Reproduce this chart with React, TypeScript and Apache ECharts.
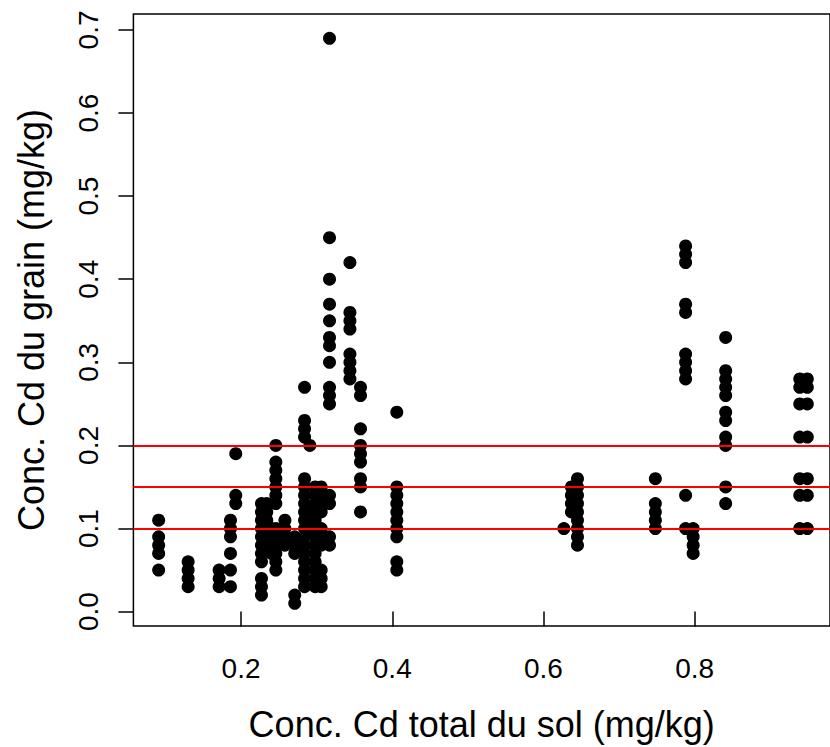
import React, { useEffect, useRef } from "react";
import * as echarts from "echarts";

// Soil total Cd (x) for each column of points, and the grain Cd values (y) observed at it
const soilCd = [
  0.091, 0.130, 0.171, 0.186, 0.193, 0.227, 0.234, 0.240, 0.246, 0.258, 0.271,
  0.284, 0.291, 0.298, 0.306, 0.317, 0.344, 0.358, 0.406, 0.627, 0.637, 0.645,
  0.748, 0.788, 0.798, 0.841, 0.939, 0.949,
];
const grainCd = [
  [0.11, 0.09, 0.08, 0.07, 0.05],
  [0.06, 0.05, 0.04, 0.03],
  [0.05, 0.04, 0.03],
  [0.11, 0.10, 0.09, 0.07, 0.05, 0.03],
  [0.19, 0.14, 0.13],
  [0.13, 0.12, 0.11, 0.10, 0.09, 0.08, 0.07, 0.06, 0.04, 0.03, 0.02],
  [0.13, 0.12, 0.11, 0.10, 0.09, 0.08],
  [0.10, 0.09, 0.08, 0.07],
  [0.20, 0.18, 0.17, 0.16, 0.15, 0.14, 0.13, 0.10, 0.09, 0.08, 0.07, 0.06, 0.05],
  [0.11, 0.10, 0.09, 0.08],
  [0.09, 0.08, 0.07, 0.02, 0.01],
  [0.27, 0.23, 0.22, 0.21, 0.16, 0.15, 0.14, 0.13, 0.12, 0.11, 0.10, 0.09, 0.08, 0.07, 0.06, 0.05, 0.04, 0.03],
  [0.20, 0.12, 0.11, 0.10],
  [0.15, 0.14, 0.13, 0.12, 0.11, 0.10, 0.09, 0.08, 0.07, 0.06, 0.05, 0.04, 0.03],
  [0.15, 0.14, 0.13, 0.12, 0.10, 0.09, 0.08, 0.05, 0.04, 0.03],
  [0.69, 0.45, 0.40, 0.37, 0.35, 0.33, 0.32, 0.30, 0.27, 0.26, 0.25, 0.14, 0.13, 0.09, 0.08],
  [0.42, 0.36, 0.35, 0.34, 0.31, 0.30, 0.29, 0.28],
  [0.27, 0.26, 0.22, 0.20, 0.19, 0.18, 0.16, 0.15, 0.12],
  [0.24, 0.15, 0.14, 0.13, 0.12, 0.11, 0.10, 0.09, 0.06, 0.05],
  [0.10],
  [0.15, 0.14, 0.13, 0.12],
  [0.16, 0.15, 0.14, 0.13, 0.12, 0.11, 0.10, 0.09, 0.08],
  [0.16, 0.13, 0.12, 0.11, 0.10],
  [0.44, 0.43, 0.42, 0.37, 0.36, 0.31, 0.30, 0.29, 0.28, 0.14, 0.10],
  [0.10, 0.09, 0.08, 0.07],
  [0.33, 0.29, 0.28, 0.27, 0.26, 0.24, 0.23, 0.21, 0.20, 0.15, 0.13],
  [0.28, 0.27, 0.25, 0.21, 0.16, 0.14, 0.10],
  [0.28, 0.27, 0.25, 0.21, 0.16, 0.14, 0.10],
];
const thresholds = [0.1, 0.15, 0.2];
const xTicks = [0.2, 0.4, 0.6, 0.8];
const yTicks = [0.0, 0.1, 0.2, 0.3, 0.4, 0.5, 0.6, 0.7];
const xTitle = "Conc. Cd total du sol (mg/kg)";
const yTitle = "Conc. Cd du grain (mg/kg)";

export default function App() {
  const ref = useRef<HTMLDivElement>(null);
  useEffect(() => {
    if (!ref.current) return;
    const chart = echarts.init(ref.current, undefined, { renderer: "svg" });
    const points: [number, number][] = [];
    soilCd.forEach((x, i) => grainCd[i].forEach((y) => points.push([x, y])));
    const font = "Liberation Sans, Arial, Helvetica, sans-serif";
    chart.setOption({
      animation: false,
      backgroundColor: "#fff",
      grid: {
        left: 133.4,
        top: 14,
        bottom: 119.3,
        right: -5.5,
        show: true,
        borderColor: "#000",
        borderWidth: 1.5,
        backgroundColor: "transparent",
      },
      xAxis: {
        type: "value",
        min: 0.0576,
        max: 0.979,
        name: xTitle,
        nameLocation: "middle",
        nameGap: 80,
        nameTextStyle: { fontFamily: font, fontSize: 36, color: "#000" },
        axisLine: { show: false },
        splitLine: { show: false },
        axisTick: {
          show: true,
          length: 15,
          customValues: xTicks,
          lineStyle: { color: "#000", width: 1.5 },
        },
        axisLabel: {
          customValues: xTicks,
          margin: 28,
          fontFamily: font,
          fontSize: 28,
          color: "#000",
          formatter: (v: number) => v.toFixed(1),
        },
      },
      yAxis: {
        type: "value",
        min: -0.0173,
        max: 0.7192,
        name: yTitle,
        nameLocation: "middle",
        nameGap: 84,
        nameRotate: 90,
        nameTextStyle: { fontFamily: font, fontSize: 36, color: "#000" },
        axisLine: { show: false },
        splitLine: { show: false },
        axisTick: {
          show: true,
          length: 15,
          customValues: yTicks,
          lineStyle: { color: "#000", width: 1.5 },
        },
        axisLabel: {
          customValues: yTicks,
          rotate: 90,
          margin: 31,
          fontFamily: font,
          fontSize: 28,
          color: "#000",
          formatter: (v: number) => v.toFixed(1),
        },
      },
      series: [
        {
          type: "scatter",
          data: points,
          symbol: "circle",
          symbolSize: 13,
          itemStyle: { color: "#000", opacity: 1 },
          z: 2,
        },
        {
          type: "scatter",
          data: [],
          z: 5,
          markLine: {
            silent: true,
            symbol: ["none", "none"],
            label: { show: false },
            lineStyle: { color: "#ff0000", width: 2, type: "solid" },
            data: thresholds.map((t) => ({ yAxis: t })),
          },
        },
      ],
    });
    return () => chart.dispose();
  }, []);
  return (
    <div
      ref={ref}
      style={{ position: "absolute", left: 0, top: 0, width: 830, height: 747 }}
    />
  );
}
